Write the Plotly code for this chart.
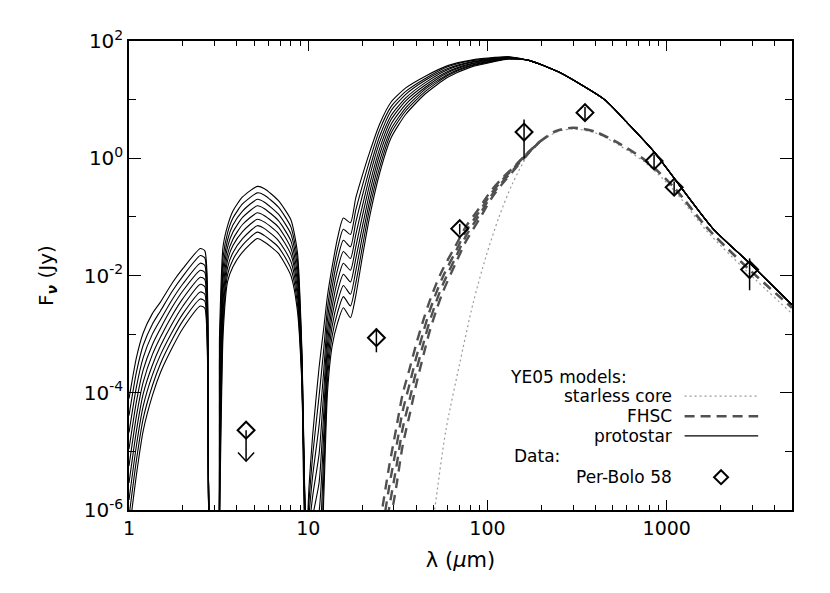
# Import libraries
import plotly.graph_objects as go


"""
SED of Per-Bolo 58 compared with YE05 models
(starless core, first hydrostatic core, protostar)
Values are log10(F_nu / Jy) read off the original figure
"""


# Protostar models: shared wavelength grid (micron)
proto_wave = [1.0, 1.1, 1.2, 1.35, 1.5, 1.75, 2.0, 2.5, 2.65, 2.9,
              3.08, 3.2, 3.35, 3.55, 3.8, 4.3, 5.2, 5.7, 6.8, 8.0,
              8.7, 9.2, 9.75, 10.1, 10.6, 11.5, 12.2, 12.8, 13.6, 14.6,
              15.7, 17.2, 18.4, 20, 22, 25, 29, 35, 45, 60,
              80, 110, 130]

# One row per protostar model (log10 flux in Jy)
proto_logf = [
    [-4.10, -3.40, -2.98, -2.65, -2.45, -2.12, -1.88, -1.54, -1.58, -7, -7, -3.00, -1.50, -1.15, -0.90, -0.66, -0.48, -0.52, -0.72, -1.05, -1.60, -3.20, -6.60, -5.60, -4.70, -3.56, -2.90, -2.35, -1.85, -1.35, -1.02, -1.10, -0.68, -0.30, 0.10, 0.58, 0.96, 1.20, 1.40, 1.58, 1.67, 1.72, 1.73],
    [-4.39, -3.65, -3.19, -2.83, -2.60, -2.26, -2.01, -1.66, -1.70, -7, -7, -3.38, -1.69, -1.27, -1.02, -0.78, -0.59, -0.63, -0.83, -1.17, -1.73, -3.28, -6.63, -5.84, -5.05, -4.05, -3.26, -2.56, -2.02, -1.53, -1.21, -1.30, -0.89, -0.48, -0.04, 0.48, 0.88, 1.14, 1.36, 1.56, 1.66, 1.71, 1.73],
    [-4.68, -3.90, -3.40, -3.00, -2.75, -2.40, -2.14, -1.79, -1.83, -7, -7, -3.75, -1.88, -1.39, -1.14, -0.90, -0.70, -0.75, -0.95, -1.29, -1.85, -3.35, -6.65, -6.08, -5.40, -4.55, -3.63, -2.76, -2.19, -1.71, -1.40, -1.51, -1.10, -0.65, -0.18, 0.37, 0.81, 1.09, 1.33, 1.53, 1.64, 1.70, 1.72],
    [-4.96, -4.15, -3.61, -3.18, -2.90, -2.53, -2.26, -1.91, -1.95, -7, -7, -4.13, -2.06, -1.51, -1.26, -1.01, -0.81, -0.86, -1.06, -1.41, -1.98, -3.43, -6.68, -6.31, -5.75, -5.04, -3.99, -2.97, -2.36, -1.89, -1.59, -1.71, -1.31, -0.83, -0.31, 0.27, 0.73, 1.03, 1.29, 1.51, 1.63, 1.69, 1.72],
    [-5.25, -4.40, -3.82, -3.35, -3.05, -2.67, -2.39, -2.03, -2.07, -7, -7, -4.50, -2.25, -1.63, -1.38, -1.13, -0.93, -0.98, -1.17, -1.53, -2.10, -3.50, -6.70, -6.55, -6.10, -5.53, -4.35, -3.18, -2.53, -2.08, -1.79, -1.91, -1.52, -1.00, -0.45, 0.16, 0.66, 0.98, 1.25, 1.48, 1.61, 1.69, 1.71],
    [-5.54, -4.65, -4.02, -3.53, -3.20, -2.81, -2.52, -2.15, -2.19, -7, -7, -4.88, -2.44, -1.74, -1.49, -1.25, -1.04, -1.09, -1.28, -1.64, -2.23, -3.58, -6.73, -6.79, -6.45, -6.02, -4.71, -3.38, -2.69, -2.26, -1.98, -2.11, -1.72, -1.18, -0.59, 0.06, 0.58, 0.92, 1.21, 1.46, 1.60, 1.68, 1.71],
    [-5.83, -4.90, -4.23, -3.70, -3.35, -2.95, -2.65, -2.28, -2.32, -7, -7, -5.25, -2.63, -1.86, -1.61, -1.37, -1.15, -1.20, -1.40, -1.76, -2.35, -3.65, -6.75, -7.03, -6.80, -6.52, -5.08, -3.59, -2.86, -2.44, -2.17, -2.32, -1.93, -1.35, -0.73, -0.05, 0.50, 0.86, 1.18, 1.43, 1.58, 1.67, 1.70],
    [-6.11, -5.15, -4.44, -3.88, -3.50, -3.08, -2.77, -2.40, -2.44, -7, -7, -5.63, -2.81, -1.98, -1.73, -1.48, -1.26, -1.32, -1.51, -1.88, -2.48, -3.73, -6.78, -7.26, -7.15, -7.01, -5.44, -3.79, -3.03, -2.62, -2.36, -2.52, -2.14, -1.53, -0.86, -0.16, 0.43, 0.81, 1.14, 1.41, 1.57, 1.66, 1.70],
    [-6.40, -5.40, -4.65, -4.05, -3.65, -3.22, -2.90, -2.52, -2.56, -7, -7, -6.00, -3.00, -2.10, -1.85, -1.60, -1.37, -1.43, -1.62, -2.00, -2.60, -3.80, -6.80, -7.50, -7.50, -7.50, -5.80, -4.00, -3.20, -2.80, -2.55, -2.72, -2.35, -1.70, -1.00, -0.26, 0.35, 0.75, 1.10, 1.38, 1.55, 1.65, 1.69],
]

# Long-wavelength part shared by all protostar models
proto_tail_wave = [170, 250, 450, 600, 850, 1800, 2900, 5000]
proto_tail_logf = [1.67, 1.47, 1.00, 0.61, 0.11, -1.19, -1.79, -2.50]

# FHSC models: rising part, one row per model
fhsc_wave = [26, 28.3, 31, 33.6, 37, 40.1, 44, 47.4, 52, 56.4,
             66.7, 76, 90, 105, 120, 140, 160, 195]
fhsc_logf = [
    [-5.94, -5.25, -4.60, -4.03, -3.56, -3.16, -2.75, -2.45, -2.13, -1.89, -1.48, -1.16, -0.85, -0.55, -0.35, -0.15, 0.03, 0.28],
    [-6.31, -5.60, -4.93, -4.32, -3.82, -3.39, -2.95, -2.62, -2.28, -2.02, -1.58, -1.24, -0.91, -0.60, -0.38, -0.17, 0.03, 0.28],
    [-6.69, -5.96, -5.27, -4.62, -4.08, -3.62, -3.15, -2.80, -2.43, -2.15, -1.68, -1.32, -0.97, -0.64, -0.42, -0.19, 0.01, 0.28],
    [-7.06, -6.31, -5.60, -4.91, -4.34, -3.85, -3.35, -2.97, -2.58, -2.28, -1.78, -1.41, -1.04, -0.69, -0.45, -0.21, 0.00, 0.28],
]

# FHSC long-wavelength part (models overlap)
fhsc_tail_wave = [195, 240, 300, 400, 550, 770, 1100, 1660, 2800, 5000]
fhsc_tail_logf = [0.28, 0.46, 0.52, 0.45, 0.24, -0.05, -0.50, -1.17, -1.86, -2.55]

# Starless core model
starless_wave = [46, 50.7, 58.6, 70, 83, 98, 116, 138, 170, 200,
                 250, 300, 400, 550, 770, 1100, 1660, 2800, 5000]
starless_logf = [-7.0, -6.0, -4.64, -3.50, -2.48, -1.68, -1.00, -0.43, 0.08, 0.30,
                 0.46, 0.50, 0.43, 0.21, -0.09, -0.55, -1.23, -1.93, -2.65]

# Per-Bolo 58 photometry (micron, Jy)
data_wave = [24, 70, 160, 350, 850, 1100, 2900]
data_flux = [8.7e-4, 0.063, 2.8, 6.0, 0.9, 0.32, 0.0126]
data_err = [3.8e-4, 0.013, 1.8, 1.5, 0.25, 0.08, 0.007]

# Upper limit at 4.5 micron
limit_wave = 4.5
limit_flux = 2.3e-5

# Tick labels
x_ticks = [1, 10, 100, 1000]
x_tick_text = ["1", "10", "100", "1000"]
y_ticks = [1e-6, 1e-4, 1e-2, 1, 1e2]
y_tick_text = ["10<sup>-6</sup>", "10<sup>-4</sup>", "10<sup>-2</sup>",
               "10<sup>0</sup>", "10<sup>2</sup>"]


def to_flux(logs):
    # Convert log10 values to Jy
    return [10 ** v for v in logs]


fig = go.Figure()

# Starless core (dotted light gray)
fig.add_trace(go.Scatter(
    x=starless_wave, y=to_flux(starless_logf), mode="lines",
    line=dict(color="#9a9a9a", width=1.2, dash="2px,3px", shape="spline", smoothing=0.8)
))

# FHSC models (thick dashed gray)
for row in fhsc_logf:
    fig.add_trace(go.Scatter(
        x=fhsc_wave, y=to_flux(row), mode="lines",
        line=dict(color="#505050", width=2.4, dash="10px,7px", shape="spline", smoothing=0.8)
    ))
fig.add_trace(go.Scatter(
    x=fhsc_tail_wave, y=to_flux(fhsc_tail_logf), mode="lines",
    line=dict(color="#505050", width=2.6, dash="10px,6px", shape="spline", smoothing=0.8)
))

# Protostar models (thin black)
for row in proto_logf:
    fig.add_trace(go.Scatter(
        x=proto_wave + proto_tail_wave, y=to_flux(row + proto_tail_logf),
        mode="lines",
        line=dict(color="black", width=1.1, shape="spline", smoothing=0.6)
    ))

# Data points with error bars
fig.add_trace(go.Scatter(
    x=data_wave, y=data_flux, mode="markers",
    marker=dict(symbol="diamond-open", size=13, color="black",
                line=dict(width=2, color="black")),
    error_y=dict(type="data", array=data_err, color="black",
                 thickness=1.5, width=0)
))

# Upper limit: diamond plus downward arrow
arrow_len = 0.53   # dex
head_dx = 0.045    # dex in wavelength
head_dy = 0.15     # dex in flux
tip = limit_flux / 10 ** arrow_len
fig.add_trace(go.Scatter(
    x=[limit_wave, limit_wave, None,
       limit_wave / 10 ** head_dx, limit_wave, limit_wave * 10 ** head_dx],
    y=[limit_flux, tip, None, tip * 10 ** head_dy, tip, tip * 10 ** head_dy],
    mode="lines", line=dict(color="black", width=1.5)
))
fig.add_trace(go.Scatter(
    x=[limit_wave], y=[limit_flux], mode="markers",
    marker=dict(symbol="diamond-open", size=13, color="black",
                line=dict(width=2, color="black"))
))

# Minor tick positions
x_minor = [m * 10 ** d for d in range(4) for m in range(2, 10) if m * 10 ** d <= 5000]
y_minor = [1e-5, 1e-3, 1e-1, 1e1]

fig.update_xaxes(
    type="log", range=[0, 3.69897],
    tickvals=x_ticks, ticktext=x_tick_text,
    ticks="inside", ticklen=10, tickwidth=1, tickcolor="black",
    minor=dict(tickvals=x_minor, ticks="inside", ticklen=5,
               tickwidth=1, tickcolor="black"),
    showline=True, linewidth=1.5, linecolor="black", mirror="ticks",
    showgrid=False, zeroline=False,
    tickfont=dict(size=19),
    title=dict(text="λ (<i>μ</i>m)", font=dict(size=21), standoff=15)
)
fig.update_yaxes(
    type="log", range=[-6, 2],
    tickvals=y_ticks, ticktext=y_tick_text,
    ticks="inside", ticklen=12, tickwidth=1, tickcolor="black",
    minor=dict(tickvals=y_minor, ticks="inside", ticklen=7,
               tickwidth=1, tickcolor="black"),
    showline=True, linewidth=1.5, linecolor="black", mirror="ticks",
    showgrid=False, zeroline=False,
    tickfont=dict(size=20),
    title=dict(text="F<sub><b><i>ν</i></b></sub> (Jy)", font=dict(size=20), standoff=25)
)

# Legend drawn as text plus line samples (text sits left of the sample)
legend_text = [
    ("YE05 models:", 0.573, 0.284, "left"),
    ("starless core", 0.821, 0.243, "right"),
    ("FHSC", 0.821, 0.200, "right"),
    ("protostar", 0.821, 0.158, "right"),
    ("Data:", 0.579, 0.115, "left"),
    ("Per-Bolo 58", 0.821, 0.070, "right"),
]
for text, px, py, anchor in legend_text:
    fig.add_annotation(
        x=px, y=py, xref="paper", yref="paper", text=text,
        showarrow=False, xanchor=anchor, yanchor="middle",
        font=dict(size=17, color="black"), borderpad=0
    )

legend_lines = [
    (0.243, "#9a9a9a", 1.2, "2px,3px"),
    (0.200, "#505050", 2.6, "10px,6px"),
    (0.158, "black", 1.1, "solid"),
]
for py, color, width, dash in legend_lines:
    fig.add_shape(
        type="line", xref="paper", yref="paper",
        x0=0.838, x1=0.949, y0=py, y1=py,
        line=dict(color=color, width=width, dash=dash)
    )

# Legend diamond symbol
fig.add_shape(
    type="path", xref="paper", yref="paper",
    xsizemode="pixel", ysizemode="pixel", xanchor=0.893, yanchor=0.070,
    path="M0,7 L7,0 L0,-7 L-7,0 Z",
    line=dict(color="black", width=2)
)

# Page body adds an 8px offset, so margins are shifted to compensate
fig.update_layout(
    width=830, height=593,
    margin=dict(l=121, r=46, t=33, b=91),
    plot_bgcolor="white", paper_bgcolor="white",
    showlegend=False,
    font=dict(family="DejaVu Sans", size=17, color="black")
)

fig.write_html("out.html")
